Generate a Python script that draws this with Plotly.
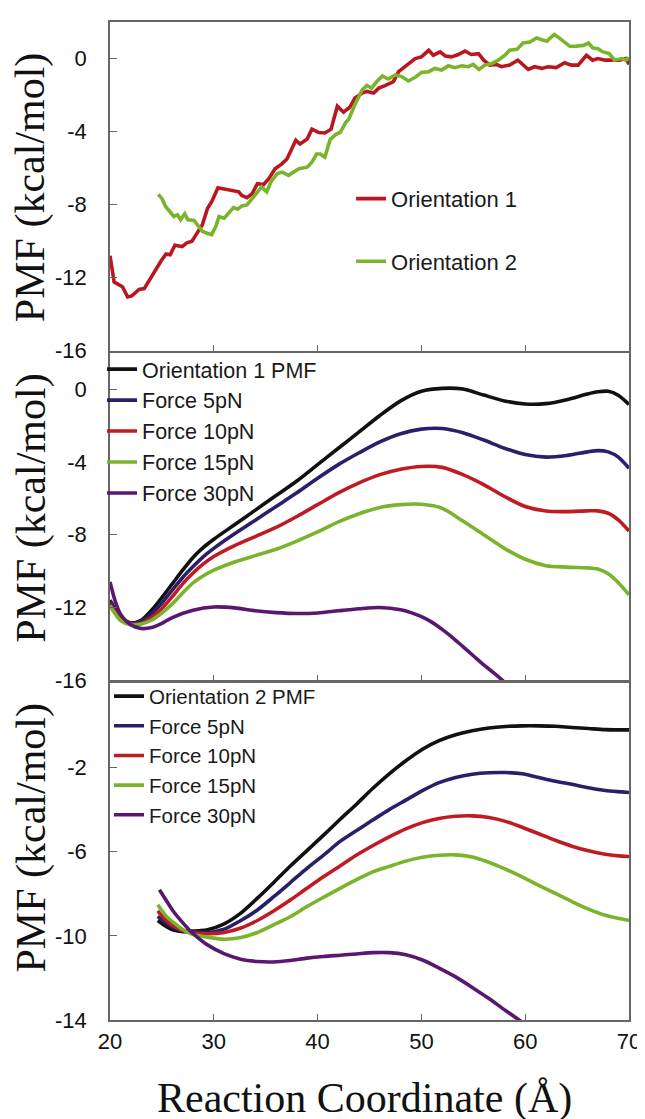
import plotly.graph_objects as go

# ---------------- data: top panel (raw PMF) ----------------
o1_x = [20.0, 20.4, 21.2, 21.7, 22.1, 22.8, 23.3, 23.75, 24.2, 24.9, 25.4, 25.8, 26.25, 26.95, 27.4, 27.9,
        28.4, 28.9, 29.4, 29.8, 30.4, 31.1, 31.8, 32.4, 32.7, 33.2, 33.7, 34.2, 34.8, 35.3, 35.9, 36.5,
        37.05, 37.5, 37.9, 38.3, 39.0, 39.45, 40.1, 40.7, 41.3, 41.9, 42.5, 43.1, 43.6, 44.3, 44.75, 45.4,
        45.9, 46.5, 47.3, 47.8, 48.4, 49.4, 50.0, 50.7, 51.15, 51.8, 52.3, 52.9, 53.55, 54.2, 54.8, 55.5,
        56.0, 56.6, 57.2, 57.7, 58.5, 59.3, 60.3, 60.9, 61.6, 62.2, 63.0, 63.8, 64.45, 65.1, 65.9, 66.5,
        67.0, 67.7, 68.3, 69.1, 69.7, 70.0]
o1_y = [-10.8, -12.25, -12.5, -13.06, -13.0, -12.65, -12.6, -12.16, -11.8, -11.1, -10.7, -10.75, -10.23, -10.3, -10.09, -10.0,
        -9.55, -9.1, -8.2, -7.84, -7.08, -7.15, -7.24, -7.3, -7.5, -7.62, -7.4, -6.85, -6.9, -6.58, -6.04, -5.8,
        -5.5, -4.96, -4.47, -4.68, -4.41, -3.87, -4.05, -4.08, -3.87, -2.61, -2.94, -2.67, -2.16, -1.89, -1.8, -1.89,
        -1.62, -1.48, -1.26, -0.72, -0.45, 0.0, 0.09, 0.45, 0.18, 0.36, 0.14, 0.09, 0.22, 0.41, 0.22, 0.27,
        -0.09, -0.36, -0.32, -0.45, -0.36, -0.09, -0.6, -0.45, -0.54, -0.45, -0.5, -0.23, -0.36, -0.36, 0.18, -0.09,
        0.0, -0.09, -0.09, -0.09, 0.0, -0.32]

o2_x = [24.65, 25.0, 25.35, 25.8, 26.15, 26.5, 26.8, 27.2, 27.5, 28.1, 28.5, 28.9, 29.4, 29.8, 30.2, 30.5,
        31.0, 31.4, 31.9, 32.3, 32.7, 33.2, 33.7, 34.2, 34.6, 35.1, 35.5, 36.1, 36.6, 37.2, 37.7, 38.2,
        39.0, 39.45, 39.9, 40.25, 40.7, 41.2, 41.7, 42.2, 42.7, 43.0, 43.6, 44.3, 44.75, 45.2, 45.7, 46.25,
        46.8, 47.5, 48.1, 48.75, 49.4, 50.0, 50.7, 51.3, 51.95, 52.6, 53.2, 53.9, 54.5, 55.0, 55.55, 56.1,
        56.8, 57.4, 58.05, 58.5, 59.2, 59.8, 60.45, 61.1, 61.6, 62.1, 62.4, 62.8, 63.3, 63.8, 64.3, 64.9,
        65.6, 66.1, 66.5, 67.0, 67.5, 68.1, 68.6, 69.3, 69.7, 70.0]
o2_y = [-7.44, -7.66, -8.1, -8.38, -8.65, -8.56, -8.83, -8.5, -8.83, -8.87, -9.19, -9.46, -9.58, -9.64, -9.19, -8.65,
        -8.74, -8.47, -8.16, -8.25, -8.07, -8.02, -7.66, -7.3, -7.03, -7.3, -6.76, -6.31, -6.22, -6.4, -6.22, -6.04,
        -5.95, -5.68, -5.23, -5.23, -5.4, -4.45, -4.18, -4.03, -3.51, -3.33, -2.52, -1.71, -1.48, -1.62, -1.26, -0.95,
        -1.12, -0.9, -0.99, -1.23, -1.03, -0.76, -0.72, -0.54, -0.63, -0.4, -0.5, -0.4, -0.45, -0.32, -0.6, -0.36,
        -0.27, -0.09, 0.18, 0.45, 0.5, 0.85, 0.9, 1.12, 1.03, 0.95, 1.12, 1.32, 1.12, 0.9, 0.67, 0.68,
        0.72, 0.85, 0.58, 0.54, 0.36, 0.27, -0.09, 0.0, -0.09, 0.04]

# ---------------- data: middle panel (orientation 1 under force) ----------------
m_x = [20, 21, 22, 23, 24, 25, 26, 27, 28, 29, 30, 32, 34, 36, 38, 40, 42, 44, 46, 48, 50, 52, 54, 56, 58,
       60, 62, 64, 66, 67, 68, 69, 70]
m_pmf = [-11.6, -12.5, -12.85, -12.7, -12.15, -11.45, -10.7, -9.95, -9.25, -8.7, -8.25, -7.45, -6.65, -5.85,
         -5.05, -4.15, -3.25, -2.35, -1.45, -0.65, -0.12, 0.04, 0.0, -0.33, -0.65, -0.82, -0.8, -0.58, -0.27,
         -0.15, -0.12, -0.35, -0.85]
m_f5 = [-11.6, -12.55, -12.85, -12.75, -12.35, -11.75, -11.05, -10.35, -9.75, -9.2, -8.75, -7.95, -7.2, -6.45,
        -5.7, -4.9, -4.15, -3.5, -2.9, -2.45, -2.2, -2.17, -2.4, -2.8, -3.25, -3.6, -3.74, -3.65, -3.45, -3.38,
        -3.45, -3.75, -4.35]
m_f10 = [-11.8, -12.6, -12.9, -12.88, -12.55, -12.05, -11.4, -10.7, -10.1, -9.6, -9.2, -8.6, -8.1, -7.6, -7.0,
         -6.35, -5.7, -5.15, -4.7, -4.4, -4.25, -4.3, -4.7, -5.25, -5.9, -6.45, -6.7, -6.73, -6.69, -6.69,
         -6.82, -7.2, -7.8]
m_f15 = [-11.9, -12.7, -12.95, -12.9, -12.7, -12.3, -11.8, -11.2, -10.65, -10.25, -9.95, -9.5, -9.15, -8.8,
         -8.35, -7.85, -7.3, -6.85, -6.5, -6.35, -6.33, -6.55, -7.25, -8.0, -8.75, -9.35, -9.7, -9.78, -9.82,
         -9.88, -10.15, -10.65, -11.3]
m30_x = [20, 20.5, 21, 22, 23, 24, 25, 26, 28, 30, 32, 34, 36, 38, 40, 42, 44, 46, 48, 49, 50, 51, 52, 53, 54,
         55, 56, 57, 58, 58.5]
m_f30 = [-10.6, -11.65, -12.35, -12.95, -13.15, -13.1, -12.87, -12.55, -12.15, -11.97, -12.02, -12.18, -12.28,
         -12.33, -12.3, -12.18, -12.07, -12.0, -12.12, -12.28, -12.5, -12.8, -13.2, -13.65, -14.15, -14.65,
         -15.15, -15.6, -16.1, -16.4]

# ---------------- data: bottom panel (orientation 2 under force) ----------------
b_x = [24.6, 25.4, 26.2, 27.0, 27.8, 28.6, 29.4, 31.0, 32.6, 34.2, 35.8, 37.4, 39.0, 40.6, 42.2, 43.8, 45.3,
       46.9, 48.5, 50.1, 51.7, 53.3, 54.9, 56.5, 58.1, 59.7, 61.3, 62.9, 64.5, 66.1, 67.7, 69.3, 70.0]
b_pmf = [-9.27, -9.55, -9.74, -9.8, -9.79, -9.76, -9.71, -9.43, -8.92, -8.21, -7.45, -6.67, -5.94, -5.2, -4.45,
         -3.72, -3.0, -2.3, -1.68, -1.13, -0.72, -0.44, -0.25, -0.12, -0.05, -0.02, -0.02, -0.04, -0.1, -0.15,
         -0.2, -0.21, -0.21]
b_f5 = [-9.08, -9.4, -9.63, -9.74, -9.79, -9.83, -9.84, -9.68, -9.27, -8.77, -8.13, -7.46, -6.78, -6.15, -5.5,
        -4.98, -4.5, -4.0, -3.55, -3.1, -2.72, -2.47, -2.32, -2.25, -2.24, -2.3, -2.48, -2.65, -2.8, -2.96,
        -3.09, -3.16, -3.19]
b_f10 = [-8.81, -9.25, -9.55, -9.75, -9.84, -9.88, -9.9, -9.84, -9.63, -9.27, -8.81, -8.29, -7.73, -7.18,
         -6.67, -6.15, -5.72, -5.3, -4.92, -4.62, -4.42, -4.32, -4.3, -4.38, -4.56, -4.84, -5.15, -5.46, -5.74,
         -5.96, -6.12, -6.21, -6.23]
b_f15 = [-8.52, -9.05, -9.4, -9.7, -9.9, -10.0, -10.06, -10.16, -10.08, -9.84, -9.47, -9.08, -8.6, -8.16, -7.73,
         -7.32, -6.96, -6.7, -6.45, -6.27, -6.17, -6.15, -6.25, -6.5, -6.83, -7.2, -7.6, -7.98, -8.37, -8.73,
         -9.02, -9.2, -9.27]
b30_x = [24.76, 25.5, 26.19, 27.0, 27.79, 28.6, 29.39, 30.98, 32.58, 34.18, 35.77, 37.37, 38.97, 40.56, 42.16,
         43.75, 45.3, 46.9, 48.5, 50.1, 51.7, 53.3, 54.9, 56.5, 58.1, 59.7, 60.8]
b_f30 = [-7.81, -8.38, -8.89, -9.37, -9.79, -10.14, -10.43, -10.85, -11.11, -11.22, -11.24, -11.17, -11.06,
         -10.98, -10.92, -10.86, -10.8, -10.8, -10.9, -11.15, -11.53, -11.95, -12.45, -12.98, -13.55, -14.1,
         -14.5]

x_ticks = [20, 30, 40, 50, 60, 70]
top_ticks = [-16, -12, -8, -4, 0]
mid_ticks = [-16, -12, -8, -4, 0]
bot_ticks = [-14, -10, -6, -2]

labels_mid = ["Orientation 1 PMF", "Force 5pN", "Force 10pN", "Force 15pN", "Force 30pN"]
labels_bot = ["Orientation 2 PMF", "Force 5pN", "Force 10pN", "Force 15pN", "Force 30pN"]

# ---------------- styling ----------------
C_BLACK = "#111111"
C_NAVY = "#29206a"
C_RED = "#c01a22"
C_GREEN = "#7ab42c"
C_PURPLE = "#5a1770"
LW = 3.6
SANS = "Liberation Sans, Arial, sans-serif"
SERIF = "Liberation Serif, Times New Roman, serif"
AXC = "#666666"

fig = go.Figure()

# top panel
fig.add_trace(go.Scatter(x=o1_x, y=o1_y, mode="lines", name="Orientation 1", legend="legend",
                         legendgroup="a", line=dict(color="#b8171f", width=LW), xaxis="x", yaxis="y"))
fig.add_trace(go.Scatter(x=o2_x, y=o2_y, mode="lines", name="Orientation 2", legend="legend",
                         legendgroup="b", line=dict(color="#7ab42c", width=LW), xaxis="x", yaxis="y"))

# middle panel
mid_series = [(m_x, m_pmf, C_BLACK), (m_x, m_f5, C_NAVY), (m_x, m_f10, C_RED), (m_x, m_f15, C_GREEN),
              (m30_x, m_f30, C_PURPLE)]
for (xs, ys, c), lab in zip(mid_series, labels_mid):
    fig.add_trace(go.Scatter(x=xs, y=ys, mode="lines", name=lab, legend="legend2",
                             line=dict(color=c, width=LW, shape="spline", smoothing=0.8),
                             xaxis="x2", yaxis="y2"))

# bottom panel
bot_series = [(b_x, b_pmf, C_BLACK), (b_x, b_f5, C_NAVY), (b_x, b_f10, C_RED), (b_x, b_f15, C_GREEN),
              (b30_x, b_f30, C_PURPLE)]
for (xs, ys, c), lab in zip(bot_series, labels_bot):
    fig.add_trace(go.Scatter(x=xs, y=ys, mode="lines", name=lab, legend="legend3",
                             line=dict(color=c, width=LW, shape="spline", smoothing=0.8),
                             xaxis="x3", yaxis="y3"))

H_PLOT = 999.0
W_PLOT = 521.0
def py(px):
    return (1012 - px) / H_PLOT

def pxx(px):
    return (px - 102) / W_PLOT

def xax(anchor, show):
    return dict(range=[20, 70], tickvals=x_ticks, ticks="inside", ticklen=6, tickcolor=AXC,
                showline=True, linecolor=AXC, linewidth=1.5, mirror=True, showgrid=False,
                zeroline=False, showticklabels=show, anchor=anchor,
                tickfont=dict(family=SANS, size=22, color="#111"), ticklabelstandoff=1)

def yax(anchor, dom, rng, tv):
    return dict(domain=dom, range=rng, tickvals=tv, ticktext=[str(v) for v in tv], ticks="inside",
                ticklen=7, tickcolor=AXC, showline=True, linecolor=AXC, linewidth=1.5, mirror=True,
                showgrid=False, zeroline=False, anchor=anchor,
                tickfont=dict(family=SANS, size=22, color="#111"), ticklabelstandoff=17)

fig.update_layout(
    width=645, height=1119,
    margin=dict(l=102, r=22, t=13, b=107),
    paper_bgcolor="white", plot_bgcolor="white",
    xaxis=xax("y", False),
    xaxis2=xax("y2", False),
    xaxis3=xax("y3", True),
    yaxis=yax("x", [py(342), 1.0], [-16, 2], top_ticks),
    yaxis2=yax("x2", [py(672), py(344)], [-16, 2], mid_ticks),
    yaxis3=yax("x3", [0.0, py(675)], [-14, 2], bot_ticks),
    legend=dict(x=pxx(344), y=py(169), xanchor="left", yanchor="top",
                bgcolor="rgba(0,0,0,0)", font=dict(family=SANS, size=22, color="#1a1a1a"),
                traceorder="grouped", tracegroupgap=31, itemwidth=30),
    legend2=dict(x=pxx(94), y=py(340), xanchor="left", yanchor="top", bgcolor="rgba(0,0,0,0)",
                 font=dict(family=SANS, size=21.5, color="#1a1a1a"), traceorder="normal", itemwidth=30),
    legend3=dict(x=pxx(101), y=py(668), xanchor="left", yanchor="top",
                 bgcolor="rgba(0,0,0,0)", font=dict(family=SANS, size=20.5, color="#1a1a1a"),
                 traceorder="normal", itemwidth=30),
    showlegend=True,
)

ann_font = dict(family=SERIF, size=42, color="#111")
for ycen in (178, 499, 829):
    fig.add_annotation(text="PMF (kcal/mol)", xref="paper", yref="paper", x=pxx(23), y=py(ycen),
                       xanchor="center", yanchor="middle", textangle=-90, showarrow=False, font=ann_font)
fig.add_annotation(text="Reaction Coordinate (Å)", xref="paper", yref="paper", x=0.49, y=py(1091),
                   xanchor="center", yanchor="middle", showarrow=False, font=ann_font)

fig.write_html("out.html")
